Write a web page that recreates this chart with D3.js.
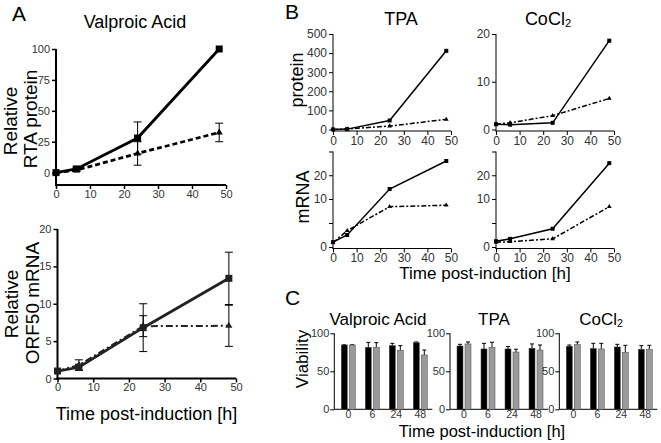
<!DOCTYPE html>
<html><head><meta charset="utf-8">
<script src="https://cdn.jsdelivr.net/npm/d3@7"></script>
<style>
body{margin:0;background:#fff}
svg{display:block}
text{font-family:"Liberation Sans",Arial,Helvetica,sans-serif}
</style>
</head><body>
<svg id="c" width="661" height="443"></svg>
<script>
// ---------- DATA ----------
const times = [0, 6, 24, 48];
const timeTicks = [0, 10, 20, 30, 40, 50];
// Panel A – Valproic Acid
const vpaProteinSolid = [0, 3, 28, 100];
const vpaProteinSolidErr = [0, 1.5, 13, 0];
const vpaProteinDashed = [0, 2, 15.5, 32.5];
const vpaProteinDashedErr = [0, 1, 9.5, 7.5];
const vpaMrnaSolid = [1, 1.5, 6.8, 13.4];
const vpaMrnaSolidErr = [0, 0.4, 3.2, 3.5];
const vpaMrnaDashed = [1, 1.8, 7.0, 7.05];
const vpaMrnaDashedErr = [0, 0.7, 1.4, 2.75];
const aProteinTicks = [0, 25, 50, 75, 100];
const aMrnaTicks = [0, 5, 10, 15, 20];
// Panel B
const tpaProteinSolid = [0, 2, 47, 412];
const tpaProteinDashed = [0, 3, 18, 53];
const cocl2ProteinSolid = [1.1, 1.0, 1.4, 18.6];
const cocl2ProteinDashed = [1.1, 1.4, 2.9, 6.5];
const tpaMrnaSolid = [1, 2.5, 14.2, 26];
const tpaMrnaDashed = [0.9, 3.4, 8.4, 8.7];
const cocl2MrnaSolid = [1.2, 1.7, 3.8, 25.1];
const cocl2MrnaDashed = [1.0, 1.1, 1.7, 8.4];
const tpaProteinTicks = [0, 100, 200, 300, 400, 500];
const cocl2ProteinTicks = [0, 10, 20];
const mrnaTicks = [0, 5, 10, 20, 30];
const mrnaTickLabels = ["0", "", "10", "20", ""];
// Panel C – viability
const viabilityCats = ["0", "6", "24", "48"];
const viabilityTicks = [0, 50, 100];
const vpaBlack = [84.6, 81.6, 83.8, 87.7];
const vpaBlackErr = [0.3, 6.4, 3.0, 0.9];
const vpaGrey = [84.6, 81.6, 77.6, 71.5];
const vpaGreyErr = [0.3, 6.1, 6.2, 6.5];
const tpaBlack = [83.3, 79.4, 79.4, 80.3];
const tpaBlackErr = [2.2, 7.4, 3.1, 5.7];
const tpaGrey = [86.0, 81.6, 75.4, 78.0];
const tpaGreyErr = [2.6, 6.6, 3.6, 6.6];
const cocl2Black = [83.0, 80.0, 82.0, 79.0];
const cocl2BlackErr = [1.6, 6.8, 3.5, 4.8];
const cocl2Grey = [85.0, 79.4, 75.0, 78.5];
const cocl2GreyErr = [3.6, 7.4, 9.2, 5.7];

// ---------- HELPERS ----------
const svg = d3.select("#c");
const FONT = '"Liberation Sans",Arial,Helvetica,sans-serif';

function label(txt, x, y, size, opts = {}) {
  const t = svg.append("text").attr("x", x).attr("y", y)
    .attr("font-size", size).attr("fill", opts.fill || "#000")
    .attr("text-anchor", opts.anchor || "start");
  if (opts.rotate) t.attr("transform", `rotate(-90,${x},${y})`);
  if (Array.isArray(txt)) {
    txt.forEach(p => {
      const s = t.append("tspan").text(p.t);
      if (p.sub) s.attr("font-size", size * 0.62).attr("dy", size * 0.12);
    });
  } else t.text(txt);
  return t;
}

function styleAxis(g, fs, col) {
  g.select(".domain").remove();
  g.selectAll(".tick line").attr("stroke", "#000");
  g.selectAll(".tick text").attr("font-size", fs).attr("fill", col || "#333").attr("font-family", FONT);
}

function linePlot(cfg) {
  const g = svg.append("g");
  const { x, y, xAxisY, yTop, aw } = cfg;
  const x0 = x.range()[0];
  const ya = d3.axisLeft(y).tickValues(cfg.yTicks).tickSize(4).tickPadding(2);
  if (cfg.yLabels) ya.tickFormat((d, i) => cfg.yLabels[i]);
  const yg = g.append("g").attr("transform", `translate(${x0},0)`).call(ya);
  styleAxis(yg, cfg.fs);
  yg.selectAll(".tick line").attr("stroke-width", cfg.tw || 1);
  g.append("line").attr("x1", x0).attr("x2", x0).attr("y1", yTop).attr("y2", xAxisY + aw / 2)
    .attr("stroke", "#000").attr("stroke-width", aw);
  const xa = d3.axisBottom(x).tickValues(timeTicks).tickSize(4).tickPadding(1);
  const xg = g.append("g").attr("transform", `translate(0,${xAxisY})`).call(xa);
  styleAxis(xg, cfg.fs);
  xg.selectAll(".tick line").attr("stroke-width", cfg.tw || 1);
  g.append("line").attr("x1", x0 - aw / 2).attr("x2", x.range()[1]).attr("y1", xAxisY).attr("y2", xAxisY)
    .attr("stroke", "#000").attr("stroke-width", aw);
  cfg.series.forEach(s => {
    const pts = times.map((t, i) => ({ t, v: s.values[i], e: s.errs ? s.errs[i] : 0 }));
    pts.filter(p => p.e > 0).forEach(p => {
      const cx = x(p.t), cw = s.cap || 4;
      g.append("line").attr("x1", cx).attr("x2", cx).attr("y1", y(p.v - p.e)).attr("y2", y(p.v + p.e))
        .attr("stroke", "#000").attr("stroke-width", 1);
      [p.v - p.e, p.v + p.e].forEach(v => g.append("line").attr("x1", cx - cw).attr("x2", cx + cw)
        .attr("y1", y(v)).attr("y2", y(v)).attr("stroke", "#000").attr("stroke-width", 1));
    });
    g.append("path").datum(pts)
      .attr("d", d3.line().x(d => x(d.t)).y(d => y(d.v)))
      .attr("fill", "none").attr("stroke", s.color || "#000").attr("stroke-width", s.w)
      .attr("stroke-dasharray", s.dash || null);
    const ms = s.ms;
    if (s.marker === "square") {
      g.selectAll(null).data(pts).enter().append("rect")
        .attr("x", d => x(d.t) - ms / 2).attr("y", d => y(d.v) - ms / 2)
        .attr("width", ms).attr("height", ms).attr("fill", s.color || "#000");
    } else {
      g.selectAll(null).data(pts).enter().append("path")
        .attr("d", d3.symbol(d3.symbolTriangle, ms * ms * 0.6))
        .attr("transform", d => `translate(${x(d.t)},${y(d.v)})`).attr("fill", s.color || "#000");
    }
  });
  return g;
}

function barPlot(cfg) {
  const g = svg.append("g");
  const x0 = cfg.x0;
  const y = d3.scaleLinear().domain([0, 100]).range([409.3, 333.3]);
  const xb = d3.scaleBand().domain(viabilityCats).range([x0 + 2, x0 + 98]).paddingInner(0);
  const ya = d3.axisLeft(y).tickValues(viabilityTicks).tickSize(4).tickPadding(1);
  const yg = g.append("g").attr("transform", `translate(${x0},0)`).call(ya);
  styleAxis(yg, 11);
  const xa = d3.axisBottom(xb).tickSize(1).tickPadding(0);
  const xg = g.append("g").attr("transform", `translate(0,${y(0)})`).call(xa);
  styleAxis(xg, 10.5);
  g.append("line").attr("x1", x0).attr("x2", x0).attr("y1", y(100)).attr("y2", y(0)).attr("stroke", "#000");
  g.append("line").attr("x1", x0).attr("x2", x0 + 98).attr("y1", y(0)).attr("y2", y(0)).attr("stroke", "#000");
  const groups = [
    { vals: cfg.black, errs: cfg.blackErr, fill: "#000", off: -7 },
    { vals: cfg.grey, errs: cfg.greyErr, fill: "#9a9a9a", off: 1 }
  ];
  groups.forEach(gr => {
    viabilityCats.forEach((c, i) => {
      const cx = xb(c) + xb.bandwidth() / 2;
      const bx = cx + gr.off, v = gr.vals[i], e = gr.errs[i];
      g.append("line").attr("x1", bx + 3).attr("x2", bx + 3).attr("y1", y(v)).attr("y2", y(v + e)).attr("stroke", "#000");
      g.append("line").attr("x1", bx + 1).attr("x2", bx + 5).attr("y1", y(v + e)).attr("y2", y(v + e)).attr("stroke", "#000");
      g.append("rect").attr("x", bx).attr("y", y(v)).attr("width", 6).attr("height", y(0) - y(v))
        .attr("fill", gr.fill).attr("stroke", "#444").attr("stroke-width", 0.5);
    });
  });
}

// ---------- PANEL A ----------
label("A", 12, 21, 21);
label("Valproic Acid", 135, 28, 18, { anchor: "middle" });
label("Relative", 17, 121, 19, { anchor: "middle", rotate: true });
label("RTA protein", 37, 119, 19, { anchor: "middle", rotate: true });
linePlot({
  x: d3.scaleLinear().domain([0, 50]).range([56, 226]),
  y: d3.scaleLinear().domain([-10, 100]).range([185, 49]),
  xAxisY: 185, yTop: 49, aw: 2, tw: 1.5, fs: 11, yTicks: aProteinTicks,
  series: [
    { values: vpaProteinDashed, errs: vpaProteinDashedErr, w: 2.8, dash: "5,3", marker: "tri", ms: 6, cap: 4 },
    { values: vpaProteinSolid, errs: vpaProteinSolidErr, w: 2.8, marker: "square", ms: 7, cap: 4 }
  ]
});

label("Relative", 18, 304, 19, { anchor: "middle", rotate: true });
label("ORF50 mRNA", 39, 303, 19, { anchor: "middle", rotate: true });
linePlot({
  x: d3.scaleLinear().domain([0, 50]).range([57.5, 236]),
  y: d3.scaleLinear().domain([0, 20]).range([378.5, 229]),
  xAxisY: 378.5, yTop: 229, aw: 2, tw: 1.5, fs: 11, yTicks: aMrnaTicks,
  series: [
    { values: vpaMrnaDashed, errs: vpaMrnaDashedErr, w: 2, dash: "7,3,2,3", color: "#222", marker: "tri", ms: 6, cap: 4 },
    { values: vpaMrnaSolid, errs: vpaMrnaSolidErr, w: 2.8, color: "#222", marker: "square", ms: 7, cap: 4 }
  ]
});
label("Time post-induction [h]", 146.5, 420, 18, { anchor: "middle" });

// ---------- PANEL B ----------
label("B", 285, 19, 21);
label("TPA", 401, 25, 18, { anchor: "middle" });
label([{ t: "CoCl" }, { t: "2", sub: true }], 548, 25, 18, { anchor: "middle" });
label("protein", 303, 80, 18, { anchor: "middle", rotate: true });
label("mRNA", 309, 197, 18, { anchor: "middle", rotate: true });

const bSeries = (solid, dashed) => [
  { values: dashed, w: 1.5, dash: "5,2,2,2", marker: "tri", ms: 4 },
  { values: solid, w: 1.5, marker: "square", ms: 4 }
];
linePlot({
  x: d3.scaleLinear().domain([0, 50]).range([333, 451]),
  y: d3.scaleLinear().domain([0, 500]).range([129.5, 34]),
  xAxisY: 131, yTop: 34, aw: 1, fs: 12, yTicks: tpaProteinTicks,
  series: bSeries(tpaProteinSolid, tpaProteinDashed)
});
linePlot({
  x: d3.scaleLinear().domain([0, 50]).range([496, 614]),
  y: d3.scaleLinear().domain([0, 20]).range([129.5, 34]),
  xAxisY: 131, yTop: 34, aw: 1, fs: 12, yTicks: cocl2ProteinTicks,
  series: bSeries(cocl2ProteinSolid, cocl2ProteinDashed)
});
linePlot({
  x: d3.scaleLinear().domain([0, 50]).range([333, 451]),
  y: d3.scaleLinear().domain([0, 10, 30]).range([247, 199, 151.5]),
  xAxisY: 248.5, yTop: 151.5, aw: 1, fs: 12, yTicks: mrnaTicks, yLabels: mrnaTickLabels,
  series: bSeries(tpaMrnaSolid, tpaMrnaDashed)
});
linePlot({
  x: d3.scaleLinear().domain([0, 50]).range([496, 614]),
  y: d3.scaleLinear().domain([0, 10, 30]).range([247, 199, 151.5]),
  xAxisY: 248.5, yTop: 151.5, aw: 1, fs: 12, yTicks: mrnaTicks, yLabels: mrnaTickLabels,
  series: bSeries(cocl2MrnaSolid, cocl2MrnaDashed)
});
label("Time post-induction [h]", 485, 279, 17, { anchor: "middle" });

// ---------- PANEL C ----------
label("C", 285, 305, 21);
label("Valproic Acid", 378, 325, 17, { anchor: "middle" });
label("TPA", 494, 325, 17, { anchor: "middle" });
label([{ t: "CoCl" }, { t: "2", sub: true }], 601, 325, 17, { anchor: "middle" });
label("Viability", 308, 359, 17, { anchor: "middle", rotate: true });
barPlot({ x0: 334.3, black: vpaBlack, blackErr: vpaBlackErr, grey: vpaGrey, greyErr: vpaGreyErr });
barPlot({ x0: 450, black: tpaBlack, blackErr: tpaBlackErr, grey: tpaGrey, greyErr: tpaGreyErr });
barPlot({ x0: 559.3, black: cocl2Black, blackErr: cocl2BlackErr, grey: cocl2Grey, greyErr: cocl2GreyErr });
label("Time post-induction [h]", 482, 437, 16.5, { anchor: "middle" });
</script>
</body></html>
